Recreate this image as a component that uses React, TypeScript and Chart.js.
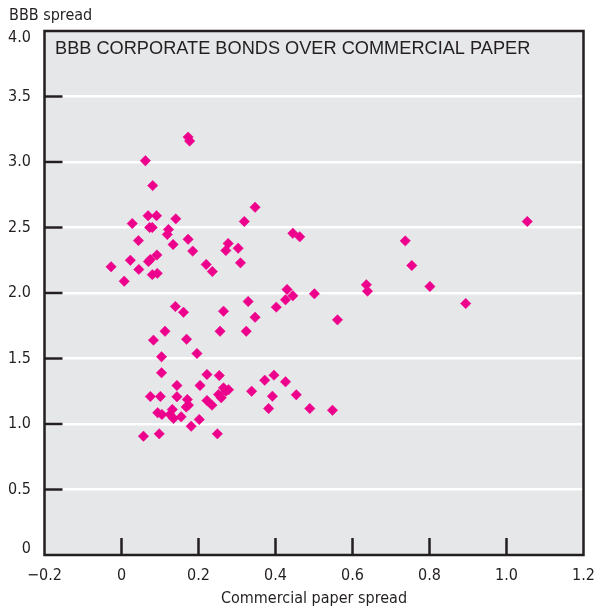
import { useEffect, useRef } from "react";
import { Chart, registerables } from "chart.js";

Chart.register(...registerables);

// Commercial paper spread (x) and BBB spread (y), one entry per point
const cpSpread = [
  0.173, 0.177, 0.062, 0.081, 0.069, 0.091, 0.028, 0.073, 0.080, 0.122,
  0.119, 0.141, 0.044, 0.134, 0.173, 0.185, 0.092, 0.070, 0.075, 0.023,
  -0.027, 0.045, 0.080, 0.093, 0.007, 0.347, 0.319, 0.277, 0.271, 0.303,
  0.309, 0.220, 0.236, 0.140, 0.161, 0.265, 0.329, 0.347, 0.445, 0.463,
  0.737, 0.754, 0.636, 0.639, 0.801, 0.430, 0.445, 0.426, 0.402, 0.501,
  0.561, 1.054, 0.894, 0.113, 0.083, 0.169, 0.256, 0.324, 0.104, 0.196,
  0.104, 0.222, 0.254, 0.144, 0.204, 0.265, 0.271, 0.252, 0.259, 0.372,
  0.396, 0.338, 0.392, 0.382, 0.426, 0.454, 0.489, 0.548, 0.075, 0.101,
  0.144, 0.171, 0.174, 0.222, 0.235, 0.094, 0.105, 0.132, 0.126, 0.135,
  0.155, 0.202, 0.181, 0.057, 0.098, 0.249, 0.168, 0.278,
];
const bbbSpread = [
  3.19, 3.16, 3.01, 2.82, 2.59, 2.59, 2.53, 2.5, 2.5, 2.485,
  2.447, 2.566, 2.4, 2.37, 2.41, 2.32, 2.29, 2.24, 2.256, 2.25,
  2.2, 2.18, 2.14, 2.15, 2.09, 2.655, 2.546, 2.378, 2.324, 2.342,
  2.23, 2.218, 2.164, 1.897, 1.853, 1.861, 1.935, 1.815, 2.456, 2.429,
  2.398, 2.21, 2.063, 2.014, 2.05, 2.027, 1.979, 1.948, 1.892, 1.994,
  1.795, 2.546, 1.92, 1.708, 1.64, 1.647, 1.708, 1.708, 1.513, 1.538,
  1.391, 1.378, 1.37, 1.294, 1.294, 1.276, 1.25, 1.225, 1.2, 1.334,
  1.373, 1.25, 1.212, 1.118, 1.322, 1.223, 1.118, 1.105, 1.21, 1.21,
  1.208, 1.187, 1.144, 1.179, 1.144, 1.086, 1.073, 1.111, 1.073, 1.042,
  1.055, 1.034, 0.983, 0.907, 0.925, 0.925, 1.13, 1.262,
];

const xTickValues = [-0.2, 0, 0.2, 0.4, 0.6, 0.8, 1.0, 1.2];
const xTickLabels = ["\u22120.2", "0", "0.2", "0.4", "0.6", "0.8", "1.0", "1.2"];
const yTickValues = [0, 0.5, 1.0, 1.5, 2.0, 2.5, 3.0, 3.5, 4.0];
const yTickLabels = ["0", "0.5", "1.0", "1.5", "2.0", "2.5", "3.0", "3.5", "4.0"];

const chartTitle = "BBB CORPORATE BONDS OVER COMMERCIAL PAPER";
const yAxisTitle = "BBB spread";
const xAxisTitle = "Commercial paper spread";

const INK = "#231f20";
const PLOT_BG = "#e6e7e8";
const POINT = "#ec008c";
const NARROW = '"Liberation Sans Narrow", "DejaVu Sans Condensed", "Roboto Condensed", "Liberation Sans", sans-serif';
const WIDE = '"Liberation Sans", Arial, sans-serif';

const framePlugin = {
  id: "framePlugin",
  beforeDraw(chart: any) {
    const { ctx, chartArea: a } = chart;
    ctx.save();
    ctx.fillStyle = PLOT_BG;
    ctx.fillRect(a.left, a.top, a.right - a.left, a.bottom - a.top);
    ctx.restore();
  },
  beforeDatasetsDraw(chart: any) {
    const { ctx, chartArea: a, scales } = chart;
    ctx.save();
    ctx.strokeStyle = INK;
    ctx.lineWidth = 2.5;
    // y tick marks inside the plot
    yTickValues.forEach((v) => {
      if (v === yTickValues[0] || v === yTickValues[yTickValues.length - 1]) return;
      const y = scales.y.getPixelForValue(v);
      ctx.beginPath();
      ctx.moveTo(a.left, y);
      ctx.lineTo(a.left + 18, y);
      ctx.stroke();
    });
    // x tick marks inside the plot
    xTickValues.forEach((v) => {
      if (v === xTickValues[0] || v === xTickValues[xTickValues.length - 1]) return;
      const x = scales.x.getPixelForValue(v);
      ctx.beginPath();
      ctx.moveTo(x, a.bottom);
      ctx.lineTo(x, a.bottom - 17);
      ctx.stroke();
    });
    // frame
    ctx.strokeRect(a.left, a.top, a.right - a.left, a.bottom - a.top);
    ctx.restore();
  },
  afterDraw(chart: any) {
    const { ctx, chartArea: a, scales } = chart;
    ctx.save();
    ctx.fillStyle = INK;
    // y tick labels
    ctx.font = `16px ${NARROW}`;
    ctx.textAlign = "right";
    ctx.textBaseline = "middle";
    yTickValues.forEach((v, i) => {
      let y = scales.y.getPixelForValue(v);
      y = Math.min(Math.max(y, a.top + 7), a.bottom - 6);
      ctx.fillText(yTickLabels[i], 31, y);
    });
    // y axis title
    ctx.textAlign = "left";
    ctx.font = `16px ${NARROW}`;
    ctx.fillText(yAxisTitle, 9, 16);
    // inner chart title
    ctx.font = `18.2px ${WIDE}`;
    ctx.textBaseline = "alphabetic";
    ctx.fillText(chartTitle, a.left + 10.5, a.top + 22.5);
    ctx.restore();
  },
};

export default function App() {
  const canvasRef = useRef<HTMLCanvasElement | null>(null);

  useEffect(() => {
    const canvas = canvasRef.current;
    if (!canvas) return;
    const data = cpSpread.map((x, i) => ({ x, y: bbbSpread[i] }));
    const chart = new Chart(canvas, {
      type: "scatter",
      data: {
        datasets: [
          {
            data,
            pointStyle: "rectRot",
            pointRadius: 5.2,
            pointHoverRadius: 5.2,
            pointBackgroundColor: POINT,
            pointBorderColor: POINT,
            pointBorderWidth: 0.5,
          },
        ],
      },
      options: {
        animation: false,
        responsive: false,
        devicePixelRatio: 1,
        layout: { padding: { left: 0, right: 14.5, top: 31, bottom: 0 } },
        plugins: {
          legend: { display: false },
          tooltip: { enabled: false },
          title: { display: false },
        },
        scales: {
          x: {
            type: "linear",
            min: -0.2,
            max: 1.2,
            afterBuildTicks: (s: any) => {
              s.ticks = xTickValues.map((v) => ({ value: v }));
            },
            afterFit: (s: any) => {
              s.height = 53;
              s.paddingLeft = 0;
              s.paddingRight = 0;
            },
            grid: { display: false, drawTicks: false },
            border: { display: false },
            ticks: {
              autoSkip: false,
              maxRotation: 0,
              padding: 11,
              color: INK,
              font: { family: NARROW, size: 16 },
              callback: (value: any) => {
                const i = xTickValues.findIndex((v) => Math.abs(v - Number(value)) < 1e-6);
                return i >= 0 ? xTickLabels[i] : "";
              },
            },
            title: {
              display: true,
              text: xAxisTitle,
              color: INK,
              font: { family: NARROW, size: 16 },
              padding: { top: 0, bottom: 0 },
            },
          },
          y: {
            type: "linear",
            min: 0,
            max: 4,
            afterBuildTicks: (s: any) => {
              s.ticks = yTickValues.map((v) => ({ value: v }));
            },
            afterFit: (s: any) => {
              s.width = 44.5;
              s.paddingTop = 0;
              s.paddingBottom = 0;
            },
            grid: {
              drawTicks: false,
              lineWidth: 2.5,
              color: (c: any) =>
                c.tick && (c.tick.value === 0 || c.tick.value === 4) ? "rgba(0,0,0,0)" : "#ffffff",
            },
            border: { display: false },
            ticks: { display: false },
          },
        },
      },
      plugins: [framePlugin],
    });
    return () => chart.destroy();
  }, []);

  return (
    <div style={{ position: "absolute", left: 0, top: 0, width: 598, height: 608, background: "#ffffff" }}>
      <canvas ref={canvasRef} width={598} height={608} style={{ display: "block", width: 598, height: 608 }} />
    </div>
  );
}
